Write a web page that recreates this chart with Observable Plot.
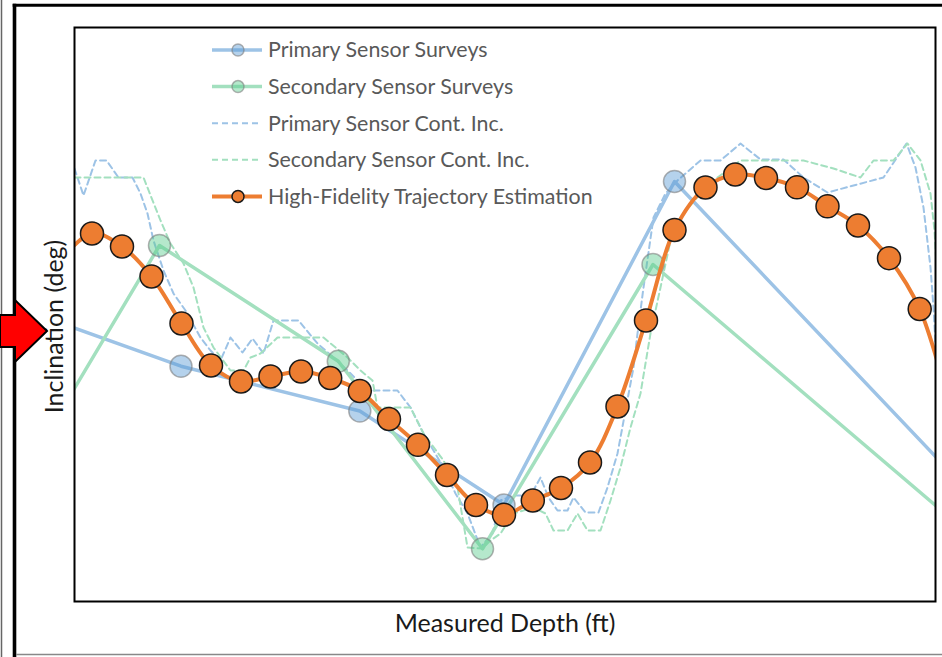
<!DOCTYPE html>
<html><head><meta charset="utf-8">
<script src="https://cdn.jsdelivr.net/npm/d3@7"></script>
<script src="https://cdn.jsdelivr.net/npm/@observablehq/plot@0.6"></script>
<style>
html,body{margin:0;padding:0;background:#fff;}
#wrap{position:relative;width:942px;height:657px;overflow:hidden;background:#fff;}
#wrap > svg{position:absolute;left:0;top:0;}
</style></head><body><div id="wrap"></div>
<script>
// ---------- data (measured depth in ft, inclination in deg) ----------
const hfDepth = [-120, 175, 475, 770, 1070, 1365, 1665, 1960, 2265, 2557, 2853, 3145, 3435, 3725, 4015, 4295, 4583, 4865, 5155, 5430, 5715, 6000, 6310, 6607, 6915, 7225, 7530, 7835, 8145, 8452, 8750];
const hfInc   = [34.4, 36.8, 35.5, 32.5, 27.8, 23.6, 22.0, 22.5, 23.0, 22.35, 21.05, 18.25, 15.67, 12.65, 9.65, 8.67, 10.1, 11.35, 13.9, 19.5, 28.1, 37.15, 41.4, 42.7, 42.35, 41.42, 39.52, 37.6, 34.33, 29.25, 19.6];

const priSurvDepth = [-740, 1065, 2853, 4295, 6000, 9260];
const priSurvInc   = [30.0, 23.53, 19.05, 9.65, 42.0, 7.64];

const secSurvDepth = [-740, 850, 2638, 4080, 5785, 9260];
const secSurvInc   = [8.9, 35.6, 24.03, 5.27, 33.7, 4.06];

const priContDepth = [0, 90, 210, 320, 440, 580, 660, 730, 790, 890, 990, 1110, 1260, 1360, 1460, 1560, 1680, 1780, 1890, 1990, 2240, 2430, 2590, 2730, 2860, 2980, 3230, 3360, 3490, 3690, 3810, 3930, 4060, 4180, 4260, 4390, 4560, 4660, 4740, 4830, 4930, 4990, 5110, 5240, 5330, 5430, 5510, 5590, 5630, 5690, 5790, 5910, 6030, 6260, 6460, 6660, 6860, 7090, 7290, 7530, 7790, 8090, 8320, 8410, 8490, 8560, 8590, 8630];
const priContInc   = [43.3, 40.6, 44.1, 44.1, 42.4, 42.4, 40.8, 38.8, 36.1, 33.1, 30.8, 29.1, 26.4, 25.1, 24.1, 26.4, 24.9, 26.3, 24.8, 28.1, 28.1, 25.8, 24.4, 23.1, 21.8, 21.1, 21.1, 19.4, 16.8, 13.4, 10.8, 8.8, 5.4, 6.8, 10.1, 10.6, 10.6, 12.4, 10.4, 9.1, 9.1, 10.4, 8.9, 8.9, 11.4, 14.8, 19.1, 23.4, 26.8, 31.4, 38.4, 40.8, 42.1, 44.1, 44.1, 45.8, 44.2, 44.2, 42.4, 40.9, 41.6, 42.4, 45.8, 43.4, 39.4, 33.4, 29.4, 22.1];

const secContDepth = [0, 690, 860, 960, 1090, 1190, 1290, 1390, 1560, 1690, 1760, 1860, 2030, 2490, 2730, 2860, 2980, 3030, 3360, 3490, 3690, 3830, 3930, 4080, 4160, 4260, 4390, 4590, 4710, 4790, 4930, 5030, 5130, 5260, 5360, 5460, 5560, 5660, 5760, 5860, 5960, 6090, 6260, 6430, 6660, 7290, 7590, 7860, 7990, 8190, 8330, 8460, 8560, 8600, 8640];
const secContInc   = [42.4, 42.4, 38.1, 35.8, 33.8, 31.4, 27.4, 25.4, 23.1, 23.1, 24.4, 24.8, 26.4, 26.4, 24.4, 23.1, 22.1, 19.4, 19.4, 16.8, 14.1, 11.4, 5.4, 5.3, 6.1, 6.8, 8.8, 9.4, 8.8, 7.1, 7.1, 8.8, 7.1, 7.1, 10.1, 13.4, 17.4, 20.8, 26.8, 31.4, 36.1, 38.8, 40.8, 42.4, 44.1, 44.1, 43.3, 42.4, 44.1, 44.1, 45.8, 44.1, 40.8, 37.1, 30.1];

const seriesNames = ["Primary Sensor Surveys", "Secondary Sensor Surveys", "Primary Sensor Cont. Inc.", "Secondary Sensor Cont. Inc.", "High-Fidelity Trajectory Estimation"];
const xLabel = "Measured Depth (ft)";
const yLabel = "Inclination (deg)";

// ---------- build tables ----------
const zip = (xs, ys) => xs.map((d, i) => ({depth: d, inc: ys[i]}));
const hf = zip(hfDepth, hfInc);
const priSurv = zip(priSurvDepth, priSurvInc);
const secSurv = zip(secSurvDepth, secSurvInc);
const priCont = zip(priContDepth, priContInc);
const secCont = zip(secContDepth, secContInc);

const C = {
  priLine: "#9DC3E6", secLine: "#A3E0BF",
  priDot: "#5B9BD5", secDot: "#5CCB8F",
  hf: "#ED7D31"
};

const chart = Plot.plot({
  width: 942, height: 657,
  marginLeft: 74, marginRight: 7, marginTop: 27, marginBottom: 56,
  x: {domain: [0, 8610]},
  y: {domain: [0, 57.4]},
  style: {fontFamily: "Lato", fontSize: "21px", color: "#1a1a1a", background: "transparent"},
  marks: [
    Plot.line(priCont, {x: "depth", y: "inc", stroke: C.priLine, strokeWidth: 2, strokeDasharray: "6,4", clip: true}),
    Plot.line(secCont, {x: "depth", y: "inc", stroke: C.secLine, strokeWidth: 2, strokeDasharray: "6,4", clip: true}),
    Plot.line(priSurv, {x: "depth", y: "inc", stroke: C.priLine, strokeWidth: 3.5, clip: true}),
    Plot.line(secSurv, {x: "depth", y: "inc", stroke: C.secLine, strokeWidth: 3.5, clip: true}),
    Plot.dot(priSurv, {x: "depth", y: "inc", r: 11, fill: C.priDot, fillOpacity: 0.45, stroke: "#7f7f7f", strokeOpacity: 0.6, strokeWidth: 1.5, clip: true}),
    Plot.dot(secSurv, {x: "depth", y: "inc", r: 11, fill: C.secDot, fillOpacity: 0.45, stroke: "#7f7f7f", strokeOpacity: 0.6, strokeWidth: 1.5, clip: true}),
    Plot.line(hf, {x: "depth", y: "inc", stroke: C.hf, strokeWidth: 4, curve: "catmull-rom", clip: true}),
    Plot.dot(hf, {x: "depth", y: "inc", r: 11.5, fill: C.hf, stroke: "#1a1a1a", strokeWidth: 1.5, clip: true}),
    Plot.frame({stroke: "#000", strokeWidth: 2}),
    Plot.axisX({ticks: [], tickSize: 0, label: xLabel, labelAnchor: "center", labelOffset: 30, labelArrow: "none", fontSize: 25, fill: "#1a1a1a"}),
    Plot.axisY({ticks: [], tickSize: 0, label: yLabel, labelAnchor: "center", labelOffset: 29, labelArrow: "none", fontSize: 25, fill: "#1a1a1a"})
  ]
});
const wrap = document.getElementById("wrap");
wrap.appendChild(chart);
// nudge the y-axis title slightly down, as in the reference
d3.select(chart).selectAll("text").filter(function () { return this.textContent === yLabel; })
  .each(function () {
    const g = this.parentNode;
    const t = g.getAttribute("transform") || "";
    g.setAttribute("transform", t + " translate(0,12)");
  });

// ---------- legend (inside the plot area, top-left) ----------
const NS = "http://www.w3.org/2000/svg";
const leg = document.createElementNS(NS, "svg");
leg.setAttribute("width", 942); leg.setAttribute("height", 657);
const legStyles = [
  {stroke: C.priLine, w: 3.5, dash: null, dot: {fill: C.priDot, op: 0.45, stroke: "#7f7f7f", sop: 0.6}},
  {stroke: C.secLine, w: 3.5, dash: null, dot: {fill: C.secDot, op: 0.45, stroke: "#7f7f7f", sop: 0.6}},
  {stroke: C.priLine, w: 2, dash: "6,4", dot: null},
  {stroke: C.secLine, w: 2, dash: "6,4", dot: null},
  {stroke: C.hf, w: 4, dash: null, dot: {fill: C.hf, op: 1, stroke: "#1a1a1a", sop: 1}}
];
let html = "";
seriesNames.forEach((name, i) => {
  const y = 50 + i * 36.6;
  const s = legStyles[i];
  html += `<line x1="212" x2="262" y1="${y}" y2="${y}" stroke="${s.stroke}" stroke-width="${s.w}" ${s.dash ? `stroke-dasharray="${s.dash}"` : ""}/>`;
  if (s.dot) html += `<circle cx="238" cy="${y}" r="6" fill="${s.dot.fill}" fill-opacity="${s.dot.op}" stroke="${s.dot.stroke}" stroke-opacity="${s.dot.sop}" stroke-width="1.5"/>`;
  html += `<text x="268" y="${y}" dy="0.35em" font-family="Lato" font-size="21.4" fill="#595959">${name}</text>`;
});
// page decorations (surrounding figure frame and red pointer)
html += `<line x1="1.5" y1="0" x2="1.5" y2="657" stroke="#666" stroke-width="1.5"/>`;
html += `<line x1="14.5" y1="3.8" x2="14.5" y2="657" stroke="#000" stroke-width="3.6"/>`;
html += `<line x1="12.7" y1="5.3" x2="942" y2="5.3" stroke="#000" stroke-width="3"/>`;
html += `<line x1="16" y1="654.5" x2="942" y2="654.5" stroke="#888" stroke-width="1.5"/>`;
html += `<path d="M0,315 L15,315 L15,300 L47,331 L15,362 L15,347 L0,347 Z" fill="#ff0000" stroke="#000" stroke-width="2" stroke-linejoin="miter"/>`;
leg.innerHTML = html;
wrap.appendChild(leg);
</script>
</body></html>
